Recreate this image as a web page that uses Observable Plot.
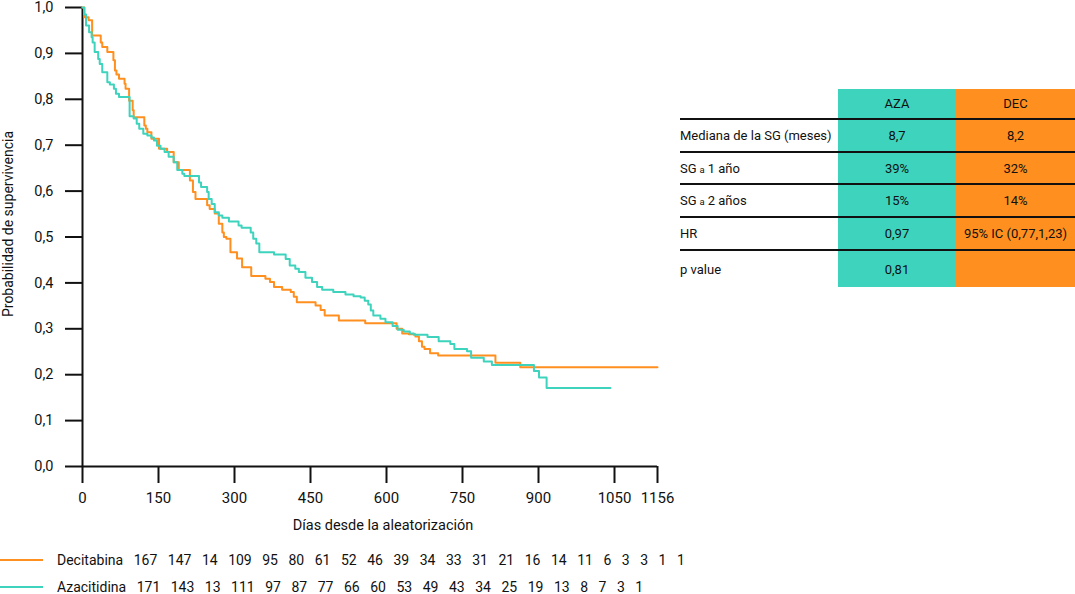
<!DOCTYPE html>
<html><head><meta charset="utf-8">
<script src="https://cdn.jsdelivr.net/npm/d3@7"></script>
<script src="https://cdn.jsdelivr.net/npm/@observablehq/plot@0.6"></script>
<style>
body{margin:0;background:#fff;font-family:Roboto,"Liberation Sans",sans-serif;color:#111;}
#wrap{position:relative;width:1075px;height:594px;overflow:hidden;}
#chart{position:absolute;left:0;top:0;overflow:visible;}
.abs{position:absolute;white-space:nowrap;}
#ylab{left:8px;top:224px;transform:translate(-50%,-50%) rotate(-90deg);font-size:14px;}
#xlab{left:383px;top:525px;transform:translate(-50%,-50%);font-size:14.5px;}
#tbl{position:absolute;left:680px;top:89px;width:395px;height:198px;font-size:13px;}
#tbl .bg{position:absolute;top:0;height:198px;}
#tbl .row{position:absolute;left:0;width:395px;display:flex;box-sizing:border-box;}
#tbl .row.line{border-bottom:2px solid #111;}
#tbl .c0{width:158px;display:flex;align-items:center;}
#tbl .c1{width:118px;display:flex;align-items:center;justify-content:center;}
#tbl .c2{width:119px;display:flex;align-items:center;justify-content:center;}
.sm{font-size:9.5px;margin:0 3px 0 3px;position:relative;top:1px;}
.risk{position:absolute;left:57px;display:flex;gap:10.5px;font-size:14px;transform:translateY(-50%);}
.key{position:absolute;left:0;width:43px;height:2px;}
</style></head><body><div id="wrap"></div>
<script>
// Kaplan-Meier curves (days, survival probability)
const decDays = [0,4,12,19,36,39,49,61,64,67,72,83,85,92,99,101,122,125,128,136,151,167,180,190,212,218,223,246,251,261,269,276,279,284,292,305,315,333,361,370,378,394,411,417,423,460,470,478,506,558,620,631,644,657,664,670,675,686,702,815,864,1156];
const decSurv = [1.000,0.979,0.972,0.939,0.924,0.914,0.903,0.885,0.863,0.854,0.845,0.834,0.823,0.797,0.776,0.761,0.743,0.736,0.728,0.714,0.692,0.685,0.663,0.646,0.623,0.598,0.583,0.569,0.561,0.551,0.529,0.510,0.500,0.496,0.467,0.453,0.434,0.415,0.409,0.402,0.391,0.385,0.380,0.370,0.358,0.351,0.341,0.329,0.318,0.312,0.300,0.290,0.288,0.283,0.273,0.261,0.256,0.247,0.242,0.226,0.216,0.216];
const azaDays = [0,3,7,13,18,20,24,31,34,39,49,54,62,66,72,93,101,107,112,120,128,136,141,147,154,162,170,180,187,197,201,230,234,246,249,255,261,269,276,289,308,314,332,337,343,349,378,401,409,420,427,440,453,463,473,495,519,535,549,557,564,569,574,588,598,612,622,634,646,654,681,703,726,734,759,767,792,808,891,901,916,1042];
const azaSurv = [1.000,0.985,0.961,0.946,0.935,0.924,0.903,0.888,0.877,0.859,0.837,0.832,0.823,0.812,0.805,0.763,0.758,0.747,0.736,0.725,0.721,0.717,0.710,0.699,0.692,0.685,0.675,0.663,0.646,0.638,0.633,0.619,0.609,0.598,0.583,0.572,0.554,0.547,0.542,0.534,0.525,0.520,0.510,0.496,0.486,0.467,0.462,0.452,0.438,0.431,0.424,0.411,0.402,0.391,0.385,0.380,0.375,0.371,0.368,0.361,0.353,0.340,0.329,0.322,0.314,0.306,0.298,0.294,0.290,0.287,0.282,0.273,0.267,0.256,0.251,0.237,0.229,0.221,0.208,0.194,0.171,0.171];

const arms = ["Decitabina","Azacitidina"];
const armColors = ["#FF8F1F","#3ED3BD"];
const xTicks = [0,150,300,450,600,750,900,1050,1156];
const yTicks = [0,0.1,0.2,0.3,0.4,0.5,0.6,0.7,0.8,0.9,1.0];

// Numbers at risk
const riskDec = [167,147,14,109,95,80,61,52,46,39,34,33,31,21,16,14,11,6,3,3,1,1];
const riskAza = [171,143,13,111,97,87,77,66,60,53,49,43,34,25,19,13,8,7,3,1];

// Summary table
const tableHeads = ["AZA","DEC"];
const rowLabels = ["Mediana de la SG (meses)","SG a 1 año","SG a 2 años","HR","p value"];
const azaVals = ["8,7","39%","15%","0,97","0,81"];
const decVals = ["8,2","32%","14%","95% IC (0,77,1,23)",""];

const data = [
  ...decDays.map((d,i)=>({day:d, surv:decSurv[i], arm:arms[0]})),
  ...azaDays.map((d,i)=>({day:d, surv:azaSurv[i], arm:arms[1]}))
];

const wrap = document.getElementById("wrap");
const chart = Plot.plot({
  width:1075, height:540,
  marginTop:7, marginBottom:74, marginLeft:82, marginRight:418,
  x:{type:"linear", domain:[0,1050,1156], range:[82,614,657]},
  y:{domain:[0,1]},
  color:{domain:arms, range:armColors},
  style:{fontFamily:"Roboto, 'Liberation Sans', sans-serif", fontSize:"15px", color:"#111", background:"transparent", overflow:"visible"},
  marks:[
    Plot.axisY({ticks:yTicks, tickFormat:d=>d.toFixed(1).replace(".",","), tickSize:17, tickPadding:12, label:null, strokeWidth:2, fontSize:14.5}),
    Plot.axisX({ticks:xTicks, tickFormat:d=>String(d), tickSize:17, tickPadding:9, label:null, strokeWidth:2}),
    Plot.ruleX([0], {stroke:"#111", strokeWidth:2}),
    Plot.ruleY([0], {stroke:"#111", strokeWidth:2}),
    Plot.line(data, {x:"day", y:"surv", z:"arm", stroke:"arm", curve:"step-after", strokeWidth:2})
  ]
});
chart.id = "chart";
wrap.appendChild(chart);

function addDiv(cls, id, html){const d=document.createElement("div");d.className=cls;if(id)d.id=id;d.innerHTML=html;wrap.appendChild(d);return d;}
addDiv("abs","ylab","Probabilidad de supervivencia");
addDiv("abs","xlab","Días desde la aleatorización");

// table
const tbl = document.createElement("div"); tbl.id="tbl"; wrap.appendChild(tbl);
const bgA = document.createElement("div"); bgA.className="bg"; bgA.style.left="158px"; bgA.style.width="118px"; bgA.style.background=armColors[1]; tbl.appendChild(bgA);
const bgD = document.createElement("div"); bgD.className="bg"; bgD.style.left="276px"; bgD.style.width="119px"; bgD.style.background=armColors[0]; tbl.appendChild(bgD);
const rowH = [31,33,32,33,33,36];
let rowTop = 0;
const fmtLabel = s => s.replace(/^SG a /, 'SG<span class="sm">a</span>');
const rows = [["", tableHeads[0], tableHeads[1]], ...rowLabels.map((l,i)=>[fmtLabel(l), azaVals[i], decVals[i]])];
rows.forEach((r,i)=>{
  const row = document.createElement("div");
  row.className = "row" + (i < rows.length-1 ? " line" : "");
  row.style.top = rowTop+"px"; row.style.height = rowH[i]+"px";
  row.innerHTML = `<div class="c0">${r[0]}</div><div class="c1">${r[1]}</div><div class="c2">${r[2]}</div>`;
  tbl.appendChild(row);
  rowTop += rowH[i];
});

// risk rows
[[riskDec,559.5,0],[riskAza,587,1]].forEach(([vals,y,k])=>{
  const key = document.createElement("div"); key.className="key"; key.style.top=(y-1)+"px"; key.style.background=armColors[k]; wrap.appendChild(key);
  const r = document.createElement("div"); r.className="risk"; r.style.top=y+"px";
  r.innerHTML = `<span>${arms[k]}</span>` + vals.map(v=>`<span>${v}</span>`).join("");
  wrap.appendChild(r);
});
</script>
</body></html>
